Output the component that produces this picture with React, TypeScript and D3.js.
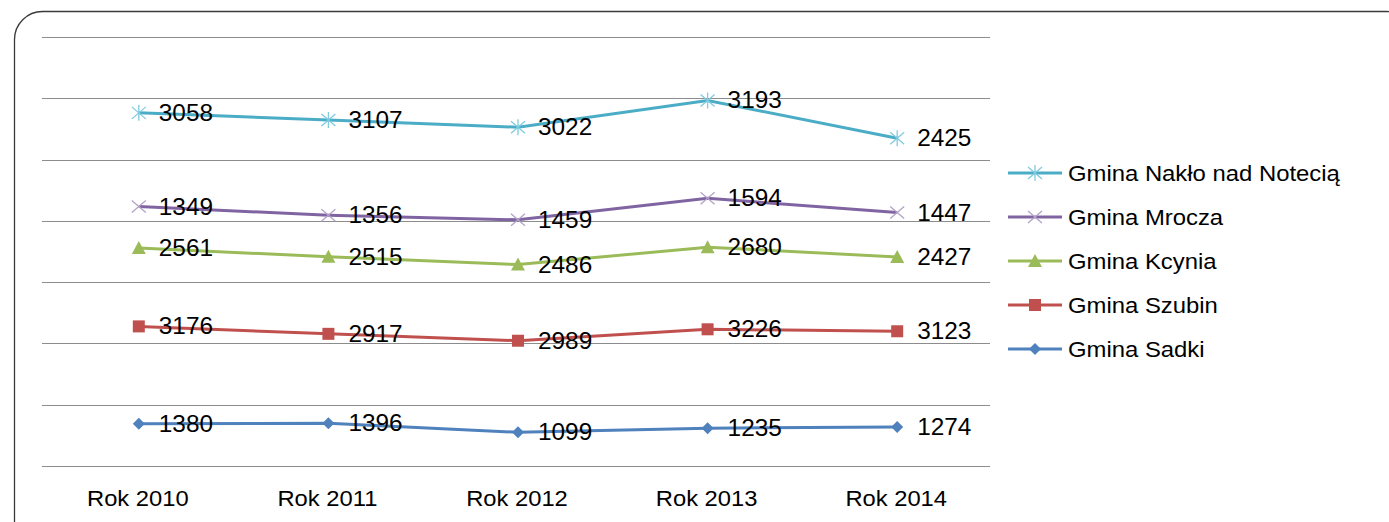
import React, { useEffect, useRef } from 'react';
import * as d3 from 'd3';

const years = ['Rok 2010', 'Rok 2011', 'Rok 2012', 'Rok 2013', 'Rok 2014'];
// stacking order bottom -> top
const seriesNames = ['Gmina Sadki', 'Gmina Szubin', 'Gmina Kcynia', 'Gmina Mrocza', 'Gmina Nakło nad Notecią'];
const sadki = [1380, 1396, 1099, 1235, 1274];
const szubin = [3176, 2917, 2989, 3226, 3123];
const kcynia = [2561, 2515, 2486, 2680, 2427];
const mrocza = [1349, 1356, 1459, 1594, 1447];
const naklo = [3058, 3107, 3022, 3193, 2425];
const colors = ['#4F81BD', '#C0504D', '#9BBB59', '#8064A2', '#4BACC6'];
const yTicks = [0, 2000, 4000, 6000, 8000, 10000, 12000, 14000];

const font = 'Arial, "Liberation Sans", sans-serif';

const App = () => {
  const ref = useRef<SVGSVGElement>(null);

  useEffect(() => {
    const svg = d3.select(ref.current);
    svg.selectAll('*').remove();

    const values = [sadki, szubin, kcynia, mrocza, naklo];
    const rows = years.map((y, i) => {
      const r: any = { year: y };
      seriesNames.forEach((s, k) => (r[s] = values[k][i]));
      return r;
    });
    const stacked = d3.stack().keys(seriesNames)(rows);

    const left = 42, right = 990, top = 37, bottom = 466;
    const x = d3.scaleBand().domain(years).range([left + 2, right + 2]);
    const y = d3.scaleLinear().domain([0, 14000]).range([bottom, top]);

    // stretched text, like the original
    const label = (g: any, tx: number, ty: number, size: number, txt: string, anchor = 'start', sx = 1.07) =>
      g.append('text')
        .attr('transform', `translate(${tx},${ty}) scale(${sx},1)`)
        .attr('text-anchor', anchor).attr('font-family', font).attr('font-size', size)
        .attr('fill', '#000').text(txt);

    svg.append('rect')
      .attr('x', 14.5).attr('y', 11.5).attr('width', 1400).attr('height', 540)
      .attr('rx', 28).attr('fill', 'white').attr('stroke', '#3a3a3a').attr('stroke-width', 1.3);

    svg.append('g').selectAll('line').data(yTicks).enter().append('line')
      .attr('x1', left).attr('x2', right)
      .attr('y1', d => Math.round(y(d)) + 0.5).attr('y2', d => Math.round(y(d)) + 0.5)
      .attr('stroke', '#8c8c8c').attr('stroke-width', 1);

    const cx = (d: string) => x(d)! + x.bandwidth() / 2;

    const axisG = svg.append('g');
    years.forEach(d => label(axisG, cx(d) - 1, 506, 22, d, 'middle', 1.08));

    const marker = (g: any, k: number, px: number, py: number) => {
      const c = colors[k];
      if (k === 0) {
        g.append('path').attr('d', `M${px - 6},${py} L${px},${py - 6} L${px + 6},${py} L${px},${py + 6} Z`).attr('fill', c);
      } else if (k === 1) {
        g.append('rect').attr('x', px - 6).attr('y', py - 6).attr('width', 12).attr('height', 12).attr('fill', c);
      } else if (k === 2) {
        g.append('path').attr('d', `M${px},${py - 7} L${px + 7},${py + 6} L${px - 7},${py + 6} Z`).attr('fill', c);
      } else if (k === 3) {
        g.append('path').attr('d', `M${px - 7},${py - 6} L${px + 7},${py + 6} M${px - 7},${py + 6} L${px + 7},${py - 6}`)
          .attr('stroke', '#b3a2c7').attr('stroke-width', 1.3);
      } else {
        g.append('path').attr('d', `M${px - 7},${py - 6} L${px + 7},${py + 6} M${px - 7},${py + 6} L${px + 7},${py - 6} M${px},${py - 8} L${px},${py + 8}`)
          .attr('stroke', '#7fcbe0').attr('stroke-width', 1.3);
      }
    };

    const line = d3.line<any>().x(d => cx(d.data.year)).y(d => y(d[1]));

    stacked.forEach((s, k) => {
      const g = svg.append('g');
      g.append('path').datum(s).attr('d', line).attr('fill', 'none')
        .attr('stroke', colors[k]).attr('stroke-width', 3);
      s.forEach((d: any) => marker(g, k, cx(d.data.year), y(d[1])));
    });

    stacked.forEach((s, k) => {
      const g = svg.append('g');
      s.forEach((d: any, i: number) =>
        label(g, cx(d.data.year) + 20, y(d[1]) + 8, 23, String(values[k][i]), 'start', 1.06));
    });

    // legend, top entry first
    const legendOrder = [4, 3, 2, 1, 0];
    const ly = d3.scalePoint<number>().domain(legendOrder).range([173, 349]);
    legendOrder.forEach(k => {
      const yy = ly(k)!;
      const g = svg.append('g');
      g.append('line').attr('x1', 1008).attr('x2', 1062).attr('y1', yy).attr('y2', yy)
        .attr('stroke', colors[k]).attr('stroke-width', 3);
      marker(g, k, 1035, yy);
      label(g, 1068, yy + 8, 22, seriesNames[k], 'start', 1.085);
    });
  }, []);

  return <svg ref={ref} width={1389} height={522} style={{ position: 'absolute', left: 0, top: 0 }} />;
};

export default App;
